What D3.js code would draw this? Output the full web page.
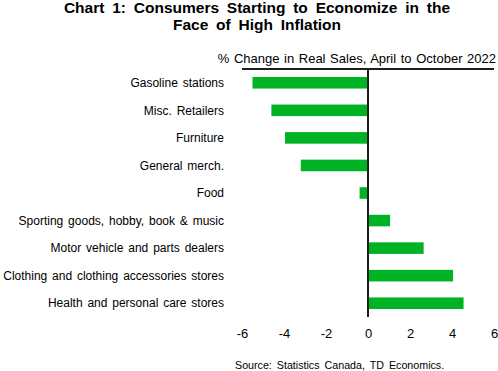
<!DOCTYPE html>
<html>
<head>
<meta charset="utf-8">
<script src="https://cdn.jsdelivr.net/npm/d3@7"></script>
<style>
  body { margin: 0; background: #fff; }
  svg { display: block; font-family: Arial, "Liberation Sans", sans-serif; }
</style>
</head>
<body>
<div id="chart"></div>
<script>
var categories = [
    "Gasoline stations",
    "Misc. Retailers",
    "Furniture",
    "General merch.",
    "Food",
    "Sporting goods, hobby, book & music",
    "Motor vehicle and parts dealers",
    "Clothing and clothing accessories stores",
    "Health and personal care stores"
];
var values = [-5.5, -4.6, -3.95, -3.2, -0.4, 1.05, 2.65, 4.05, 4.55];
var xTicks = [-6, -4, -2, 0, 2, 4, 6];

var W = 498, H = 371;
var margin = {top: 69, right: 4, bottom: 54, left: 242};
var width = W - margin.left - margin.right;
var height = H - margin.top - margin.bottom;

var svg = d3.select("#chart").append("svg")
    .attr("width", W)
    .attr("height", H);

// title
var title = svg.append("text")
    .attr("text-anchor", "middle")
    .attr("font-size", "15.5px")
    .attr("font-weight", "bold")
    .attr("word-spacing", "3.5px")
    .attr("fill", "#000");
title.append("tspan").attr("x", 257).attr("y", 13).text("Chart 1: Consumers Starting to Economize in the");
title.append("tspan").attr("x", 257).attr("y", 30).text("Face of High Inflation");

svg.append("text")
    .attr("x", 496)
    .attr("y", 63)
    .attr("text-anchor", "end")
    .attr("font-size", "13px")
    .attr("word-spacing", "1px")
    .attr("fill", "#000")
    .text("% Change in Real Sales, April to October 2022");

var x = d3.scaleLinear()
    .domain([-6, 6])
    .range([0, width]);

var y = d3.scaleBand()
    .domain(categories)
    .range([0, height])
    .paddingInner(0.58)
    .paddingOuter(0.29);

var main = svg.append("g")
    .attr("transform", "translate(" + margin.left + "," + margin.top + ")");

// top frame line
main.append("line")
    .attr("x1", 0).attr("x2", width)
    .attr("y1", 0).attr("y2", 0)
    .attr("stroke", "#1f1f17")
    .attr("stroke-width", 2);

// bars
main.selectAll("rect.bar")
    .data(values)
    .enter().append("rect")
    .attr("class", "bar")
    .attr("x", function (d) { return x(Math.min(0, d)); })
    .attr("y", function (d, i) { return y(categories[i]); })
    .attr("width", function (d) { return Math.abs(x(d) - x(0)); })
    .attr("height", y.bandwidth())
    .attr("fill", "#00b324");

// zero line
main.append("line")
    .attr("x1", x(0)).attr("x2", x(0))
    .attr("y1", 0).attr("y2", height)
    .attr("stroke", "#1f1f17")
    .attr("stroke-width", 2);

// category labels
main.selectAll("text.cat")
    .data(categories)
    .enter().append("text")
    .attr("class", "cat")
    .attr("x", -18)
    .attr("y", function (d) { return y(d) + y.bandwidth() / 2; })
    .attr("dy", "0.35em")
    .attr("text-anchor", "end")
    .attr("font-size", "12px")
    .attr("word-spacing", "1.5px")
    .attr("fill", "#000")
    .text(function (d) { return d; });

// x axis labels (no line), plain hyphen minus like the original
var xAxis = d3.axisBottom(x)
    .tickValues(xTicks)
    .tickSize(0)
    .tickPadding(12)
    .tickFormat(function (d) { return String(d); });
var ax = main.append("g")
    .attr("transform", "translate(0," + height + ")")
    .call(xAxis);
ax.select(".domain").remove();
ax.selectAll("text")
    .attr("font-size", "13px")
    .attr("font-family", "Arial, 'Liberation Sans', sans-serif")
    .attr("fill", "#000");

// source
svg.append("text")
    .attr("x", 235)
    .attr("y", 369)
    .attr("font-size", "10.7px")
    .attr("fill", "#000")
    .attr("word-spacing", "2px")
    .text("Source: Statistics Canada, TD Economics.");
</script>
</body>
</html>
